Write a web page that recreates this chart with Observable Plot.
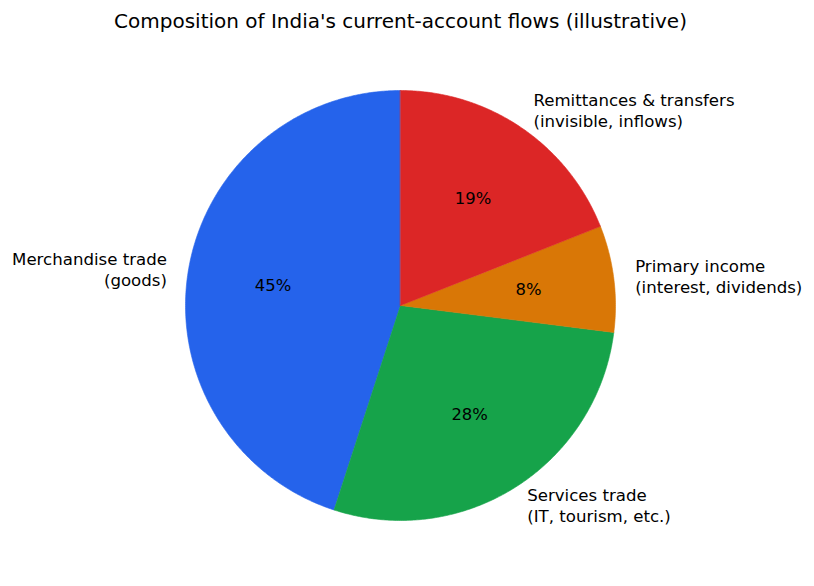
<!DOCTYPE html>
<html>
<head>
<meta charset="utf-8">
<script src="https://cdn.jsdelivr.net/npm/d3@7"></script>
<script src="https://cdn.jsdelivr.net/npm/@observablehq/plot@0.6"></script>
<style>
  html, body { margin: 0; padding: 0; background: #fff; }
  #chart { width: 814px; height: 586px; }
</style>
</head>
<body>
<div id="chart"></div>
<script>
const title = "Composition of India's current-account flows (illustrative)";
const categories = [
  "Merchandise trade\n(goods)",
  "Services trade\n(IT, tourism, etc.)",
  "Primary income\n(interest, dividends)",
  "Remittances & transfers\n(invisible, inflows)"
];
const shares = [45, 28, 8, 19];
const colors = ["#2563eb", "#16a34a", "#d97706", "#dc2626"];

const total = d3.sum(shares);
const slices = [];
let start = 90;
shares.forEach((v, i) => {
  const span = v / total * 360;
  const n = Math.max(8, Math.ceil(span * 2));
  const pts = [{x: 0, y: 0}];
  for (let k = 0; k <= n; k++) {
    const a = (start + span * k / n) * Math.PI / 180;
    pts.push({x: Math.cos(a), y: Math.sin(a)});
  }
  const mid = (start + span / 2) * Math.PI / 180;
  slices.push({
    cat: categories[i], value: v, color: colors[i], pts,
    lx: 1.1 * Math.cos(mid), ly: 1.1 * Math.sin(mid),
    px: 0.6 * Math.cos(mid), py: 0.6 * Math.sin(mid),
    pct: Math.round(v / total * 100) + "%"
  });
  start += span;
});

const marks = [];
slices.forEach(s => {
  marks.push(Plot.line(s.pts, {x: "x", y: "y", fill: s.color, stroke: s.color, strokeWidth: 0.6, curve: "linear-closed"}));
});
marks.push(Plot.text(slices.filter(s => s.lx < 0), {x: "lx", y: "ly", text: "cat", textAnchor: "end", lineAnchor: "middle", lineHeight: 1.25, fontSize: 16.6, fill: "#000"}));
marks.push(Plot.text(slices.filter(s => s.lx >= 0), {x: "lx", y: "ly", text: "cat", textAnchor: "start", lineAnchor: "middle", lineHeight: 1.25, fontSize: 16.6, fill: "#000"}));
marks.push(Plot.text(slices, {x: "px", y: "py", text: "pct", textAnchor: "middle", lineAnchor: "middle", fontSize: 16.4, fill: "#000"}));
marks.push(Plot.text([title], {x: () => 0, y: () => 1, text: d => d, dy: -69, textAnchor: "middle", lineAnchor: "middle", fontSize: 20, fill: "#000"}));

const chart = Plot.plot({
  width: 814,
  height: 586,
  marginLeft: 185,
  marginRight: 199,
  marginTop: 90,
  marginBottom: 66,
  x: {domain: [-1, 1], axis: null},
  y: {domain: [-1, 1], axis: null},
  style: {fontFamily: "DejaVu Sans", background: "#fff", overflow: "visible"},
  marks
});
document.getElementById("chart").appendChild(chart);
</script>
</body>
</html>
